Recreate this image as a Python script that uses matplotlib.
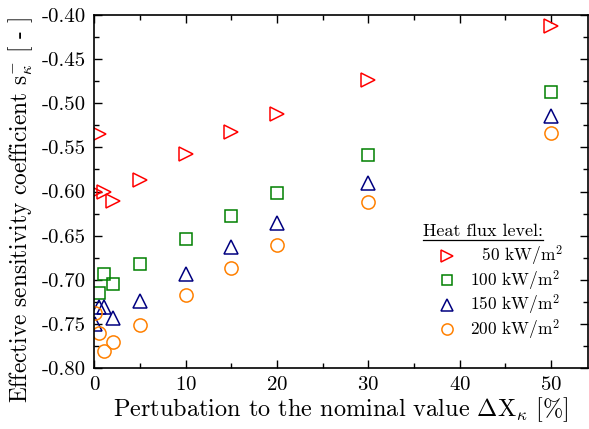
import matplotlib
matplotlib.use("Agg")
import matplotlib.pyplot as plt
from matplotlib.ticker import MultipleLocator, FormatStrFormatter
from matplotlib.lines import Line2D

plt.rcParams['font.family'] = ['cmr10']
plt.rcParams['mathtext.fontset'] = 'cm'
plt.rcParams['axes.unicode_minus'] = False
plt.rcParams['axes.formatter.use_mathtext'] = True

# Data
x_50 = [0.1, 0.5, 1, 2, 5, 10, 15, 20, 30, 50]
s_50 = [-0.600, -0.535, -0.600, -0.611, -0.5875, -0.557, -0.533, -0.5117, -0.474, -0.4125]
x_100 = [0.5, 1, 2, 5, 10, 15, 20, 30, 50]
s_100 = [-0.715, -0.6935, -0.705, -0.682, -0.654, -0.628, -0.602, -0.559, -0.487]
x_150 = [0.1, 0.5, 1, 2, 5, 10, 15, 20, 30, 50]
s_150 = [-0.750, -0.731, -0.731, -0.743, -0.724, -0.693, -0.663, -0.636, -0.590, -0.514]
x_200 = [0.1, 0.5, 1, 2, 5, 10, 15, 20, 30, 50]
s_200 = [-0.738, -0.760, -0.781, -0.771, -0.751, -0.717, -0.687, -0.6606, -0.612, -0.534]
labels = ['  50 kW/m$^2$', '100 kW/m$^2$', '150 kW/m$^2$', '200 kW/m$^2$']
legend_title = 'Heat flux level:'

W, H = 589, 429
AX_L, AX_R, AX_T, AX_B = 94.5, 587.5, 15, 368
fig = plt.figure(figsize=(W/100, H/100), dpi=100)
ax = fig.add_axes([AX_L/W, 1-AX_B/H, (AX_R-AX_L)/W, (AX_B-AX_T)/H])

series = [
    (x_50, s_50, '>', '#FF0000', 10.5),
    (x_100, s_100, 's', '#008000', 8.3),
    (x_150, s_150, '^', '#000080', 10.5),
    (x_200, s_200, 'o', '#FF8000', 9.5),
]
handles = []
for (xs, ys, m, c, ms), lab in zip(series, labels):
    h, = ax.plot(xs, ys, linestyle='none', marker=m, markersize=ms,
                 markerfacecolor='none', markeredgecolor=c, markeredgewidth=1.1,
                 label=lab)
    handles.append(h)

ax.set_xlim(0, 54)
ax.set_ylim(-0.80, -0.40)
ax.xaxis.set_major_locator(MultipleLocator(10))
ax.xaxis.set_minor_locator(MultipleLocator(5))
ax.yaxis.set_major_locator(MultipleLocator(0.05))
ax.yaxis.set_minor_locator(MultipleLocator(0.025))
ax.yaxis.set_major_formatter(FormatStrFormatter('%.2f'))
ax.tick_params(which='both', direction='in', top=True, right=True, labelsize=15, width=1)
ax.tick_params(which='major', length=6, pad=6)
ax.tick_params(which='minor', length=3.5)
for sp in ax.spines.values():
    sp.set_linewidth(1.2)

ax.set_xlabel(r'Pertubation to the nominal value $\Delta\mathrm{X}_\kappa$ [%]', fontsize=17.5, labelpad=1)
ax.set_ylabel(r'Effective sensitivity coefficient $\mathrm{s}^{-}_{\kappa}$ [ - ]', fontsize=16.8)
ax.yaxis.set_label_coords((35-AX_L)/(AX_R-AX_L), (AX_B-210.5)/(AX_B-AX_T))

leg = ax.legend(handles=handles, loc='upper left', bbox_to_anchor=(435/W, 1-244/H),
                bbox_transform=fig.transFigure, frameon=False, fontsize=12.5,
                handletextpad=0.6, labelspacing=0.02, borderaxespad=0,
                handlelength=1.4, markerscale=0.85, borderpad=0)

t = fig.text(423/W, 1-231/H, legend_title, fontsize=13, ha='left', va='center')
fig.canvas.draw()
tb = t.get_window_extent()
fig.add_artist(Line2D([tb.x0/W, tb.x1/W], [(tb.y0 - 1)/H, (tb.y0 - 1)/H],
                      transform=fig.transFigure, color='black', lw=0.9))

fig.savefig('out.png', dpi=100)
